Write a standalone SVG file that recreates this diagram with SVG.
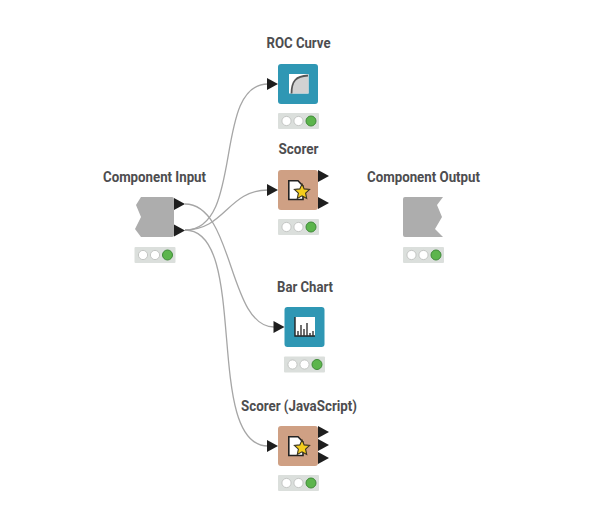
<svg xmlns="http://www.w3.org/2000/svg" width="594" height="517" viewBox="0 0 594 517">
<style>
.lbl{font-family:Roboto,"Liberation Sans",sans-serif;font-size:14.5px;font-weight:700;fill:#4d4d4f;text-anchor:middle}
.conn{fill:none;stroke:#a6a6a6;stroke-width:1.3}
.port{fill:#1e1e1e}
.bar{fill:#dbdfdc}
.off{fill:#fff;stroke:#c4c6c4;stroke-width:1}
.on{fill:#5cb54c;stroke:#3f8a38;stroke-width:1}
.teal{fill:#2f97b4}
.tan{fill:#cfa084}
.grey{fill:#adadad}
</style>
<defs>
<g id="status"><rect class="bar" x="0" y="0" width="41" height="16" rx="1"/><circle class="off" cx="8.500" cy="8" r="4.600"/><circle class="off" cx="20.500" cy="8" r="4.600"/><circle class="on" cx="33" cy="8" r="5"/></g>
<path id="pin" class="port" d="M0,-6 L11,0 L0,6 Z"/>
<g id="scorerIcon">
<path d="M0.800,0.800 H10 L15,6 V19.500 H0.800 Z" fill="#fff" stroke="#222" stroke-width="1.600"/>
<path d="M14,4 L16.200,8.900 L21.600,9.500 L17.600,13.200 L18.700,18.500 L14,15.800 L9.300,18.500 L10.400,13.200 L6.400,9.500 L11.800,8.900 Z" fill="#f5cd1c" stroke="#3a3520" stroke-width="1.100"/>
</g>
</defs>
<g id="connectors">
<path class="conn" d="M185,230 C245,230 212,84 268,84"/>
<path class="conn" d="M185,204 C234,204 228,327 274,327"/>
<path class="conn" d="M185,230 C225,230 228,190 268,190"/>
<path class="conn" d="M185,230 C250,230 203,446 268,446"/>
</g>
<g id="component-input">
<text class="lbl" x="154.500" y="182" textLength="103" lengthAdjust="spacingAndGlyphs">Component Input</text>
<path class="grey" d="M141,197 H172 Q174,197 174,199 V235 Q174,237 172,237 H141 L135,229 L141,217 L136,205 Z"/>
<use href="#pin" x="174" y="204"/><use href="#pin" x="174" y="230.500"/>
<use href="#status" x="134.500" y="247"/>
</g>
<g id="roc-curve">
<text class="lbl" x="298.500" y="48" textLength="64" lengthAdjust="spacingAndGlyphs">ROC Curve</text>
<rect class="teal" x="278" y="64" width="40" height="40" rx="3"/>
<rect x="289" y="74" width="19.500" height="19.500" fill="#fff"/>
<path d="M291,93.500 C291,81 296,76 308.500,75 V93.500 Z" fill="#d2d2d2"/>
<path d="M291.500,93.500 C291.500,81 296,76 308,75.500" fill="none" stroke="#555" stroke-width="1.800"/>
<use href="#pin" x="267" y="84"/>
<use href="#status" x="278" y="113"/>
</g>
<g id="scorer">
<text class="lbl" x="298.500" y="154" textLength="40" lengthAdjust="spacingAndGlyphs">Scorer</text>
<rect class="tan" x="278" y="170" width="40" height="40" rx="3"/>
<use href="#scorerIcon" x="288" y="180"/>
<use href="#pin" x="267" y="190"/>
<use href="#pin" x="318" y="176"/><use href="#pin" x="318" y="203"/>
<use href="#status" x="278" y="219"/>
</g>
<g id="component-output">
<text class="lbl" x="423.500" y="182" textLength="113" lengthAdjust="spacingAndGlyphs">Component Output</text>
<path class="grey" d="M405,197 H443 L437,205 L442,217 L435,229 L443,237 H405 Q403,237 403,235 V199 Q403,197 405,197 Z"/>
<use href="#status" x="403" y="247"/>
</g>
<g id="bar-chart">
<text class="lbl" x="305" y="292" textLength="56" lengthAdjust="spacingAndGlyphs">Bar Chart</text>
<rect class="teal" x="284.500" y="307" width="40" height="40" rx="3"/>
<rect x="295" y="317" width="20" height="19" fill="#fff"/>
<path d="M295,317 V336 H315" fill="none" stroke="#222" stroke-width="1.400"/>
<path d="M298,336 V331 M301,336 V325 M304,336 V329 M307,336 V323 M310,336 V333 M313,336 V331" fill="none" stroke="#333" stroke-width="1.400"/>
<use href="#pin" x="273.500" y="327"/>
<use href="#status" x="284" y="356.500"/>
</g>
<g id="scorer-javascript">
<text class="lbl" x="299" y="411" textLength="116" lengthAdjust="spacingAndGlyphs">Scorer (JavaScript)</text>
<rect class="tan" x="278" y="426" width="40" height="40" rx="3"/>
<use href="#scorerIcon" x="288" y="436"/>
<use href="#pin" x="267" y="446"/>
<use href="#pin" x="318" y="432"/><use href="#pin" x="318" y="445"/><use href="#pin" x="318" y="458"/>
<use href="#status" x="278" y="475"/>
</g>
</svg>
